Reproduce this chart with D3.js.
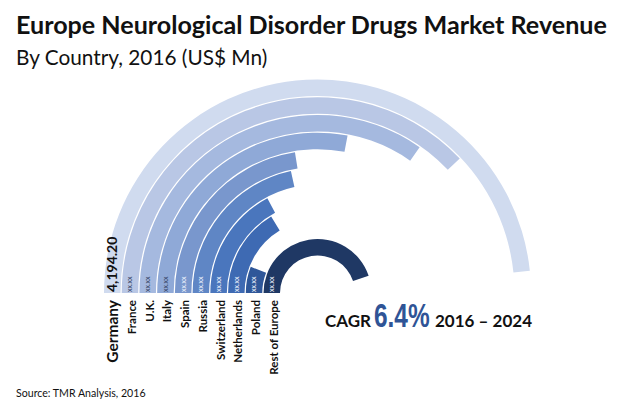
<!DOCTYPE html>
<html>
<head>
  <meta charset="utf-8">
  <title>Europe Neurological Disorder Drugs Market Revenue</title>
  <style>
    body,html{
      margin:0;
      padding:0;
      background:#fff;
    }
    text{
      font-family: Lato, "Open Sans", sans-serif;
      fill:#111;
    }
  </style>
</head>
<body>
  <div id="container"></div>
  <script src="https://d3js.org/d3.v7.min.js"></script>
  <script type="text/javascript">

    var countries = ['Germany','France','U.K.','Italy','Spain','Russia','Switzerland','Netherlands','Poland','Rest of Europe'];
    // only Germany is printed, the rest are read from the arc lengths
    var revenue = [4194.20,3293,3013,2430,1950,1873,1497,1417,516,3890];
    var valueLabels = ['4,194.20','xx.xx','xx.xx','xx.xx','xx.xx','xx.xx','xx.xx','xx.xx','xx.xx','xx.xx'];
    var ringColors = ['#d0dbef','#b9c7e5','#a5b9df','#8fa9d7','#7997cd','#5f86c5','#4a76bd','#3e6ab3','#2f5799','#1f3864'];

    var width = 620, height = 414;
    var cx = 317.5, cy = 293;

    var svg = d3.select('#container').append('svg')
      .attr('width',width).attr('height',height)
      .style('display','block');

    svg.append('text').attr('x',16).attr('y',34)
      .style('font-size','25.1px').style('font-weight','bold')
      .text('Europe Neurological Disorder Drugs Market Revenue');

    svg.append('text').attr('x',16).attr('y',65)
      .style('font-size','20.8px')
      .text('By Country, 2016 (US$ Mn)');

    // x position of each ring where it meets the baseline
    var band = d3.scaleBand().domain(countries).range([104,280]).paddingInner(0.07).paddingOuter(0);
    var sweep = d3.scaleLinear().domain([0,4194.20]).range([0,174*Math.PI/180]);

    var arc = d3.arc()
      .startAngle(-Math.PI/2)
      .endAngle(function(d){return -Math.PI/2 + sweep(d.value);})
      .outerRadius(function(d){return cx - band(d.name);})
      .innerRadius(function(d){return cx - band(d.name) - band.bandwidth();});

    var rows = countries.map(function(c,i){
      return {name:c, value:revenue[i], label:valueLabels[i], color:ringColors[i], i:i};
    });

    svg.append('g').attr('transform','translate('+cx+','+cy+')')
      .selectAll('path').data(rows).enter().append('path')
      .attr('fill',function(d){return d.color;})
      .attr('d',arc);

    function midX(d){ return band(d.name) + band.bandwidth()/2; }

    svg.append('g').selectAll('text').data(rows).enter().append('text')
      .attr('transform',function(d){return 'translate('+midX(d)+','+(cy-1)+') rotate(-90)';})
      .attr('dy','0.35em')
      .attr('text-anchor','start')
      .style('font-size',function(d){return d.i===0?'14px':'7px';})
      .style('font-weight',function(d){return d.i===0?'bold':'normal';})
      .style('fill',function(d){return d.i===0?'#111':(d.i<4?'#3b4a6b':'#e8eefa');})
      .text(function(d){return d.label;});

    svg.append('g').selectAll('text').data(rows).enter().append('text')
      .attr('transform',function(d){return 'translate('+(midX(d)+(d.i>0?2:0))+','+(cy+7)+') rotate(-90)';})
      .attr('dy','0.35em')
      .attr('text-anchor','end')
      .style('font-size',function(d){return d.i===0?'15.5px':'11.5px';})
      .style('font-weight','bold')
      .text(function(d){return d.name;});

    svg.append('text').attr('x',325).attr('y',327)
      .style('font-size','17px').style('font-weight','bold')
      .text('CAGR');
    svg.append('text').attr('transform','translate(374,327) scale(0.74,1)')
      .style('font-family','"Liberation Sans", sans-serif')
      .style('font-size','33px').style('font-weight','bold').style('fill','#2f5496')
      .text('6.4%');
    svg.append('text').attr('x',435).attr('y',327)
      .style('font-size','17px').style('font-weight','bold')
      .text('2016 – 2024');

    svg.append('text').attr('x',16).attr('y',397)
      .style('font-size','10.6px')
      .text('Source: TMR Analysis, 2016');

  </script>
</body>
</html>
